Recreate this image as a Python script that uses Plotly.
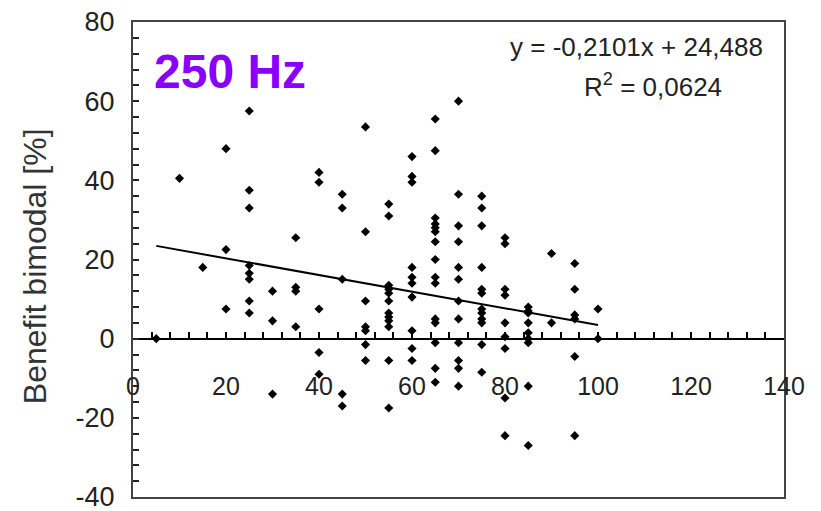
import plotly.graph_objects as go

# Measured hearing threshold (x) and bimodal benefit in percent (y), one entry per subject
hearing_x = (
    [5]
    + [10]
    + [15]
    + [20] * 3
    + [25] * 8
    + [30] * 3
    + [35] * 4
    + [40] * 5
    + [45] * 5
    + [50] * 7
    + [55] * 12
    + [60] * 10
    + [65] * 15
    + [70] * 12
    + [75] * 12
    + [80] * 9
    + [85] * 9
    + [90] * 2
    + [95] * 6
    + [100] * 2
)
benefit_y = [
    0,
    40.5,
    18,
    48, 22.5, 7.5,
    57.5, 37.5, 33, 18.5, 16.5, 15, 9.5, 6.5,
    12, 4.5, -14,
    25.5, 13, 12, 3,
    42, 39.5, 7.5, -3.5, -9,
    36.5, 33, 15, -14, -17,
    53.5, 27, 9.5, 3, 2, -1.5, -5.5,
    34, 31, 13.5, 12.5, 11.5, 9.5, 6.5, 5.5, 4.5, 3, -5.5, -17.5,
    46, 41, 39.5, 18, 15.5, 14, 10.5, 2, -2.5, -5.5,
    55.5, 47.5, 30.5, 29, 28, 27, 24.5, 20, 15.5, 14, 5, 4, -1, -7.5, -11,
    60, 36.5, 28.5, 24.5, 18, 15, 9.5, 5, -1, -5.5, -7.5, -12,
    36, 33, 28.5, 18, 12.5, 11.5, 7.5, 6.5, 5, 4, -1.5, -8.5,
    25.5, 24, 12.5, 11, 4, 0.5, -2.5, -15, -24.5,
    8, 7, 6.5, 4, 1.5, 0, -1, -12, -27,
    21.5, 4,
    19, 12.5, 6, 5, -4.5, -24.5,
    7.5, 0,
]

# Linear trend line coefficients
SLOPE = -0.2101
INTERCEPT = 24.488
R_SQUARED = 0.0624

x_ticks = [0, 20, 40, 60, 80, 100, 120, 140]
y_ticks = [-40, -20, 0, 20, 40, 60, 80]

FONT = "Liberation Sans, Arial, Helvetica, sans-serif"

fit_x = [min(hearing_x), max(hearing_x)]
fit_y = [SLOPE * v + INTERCEPT for v in fit_x]

eq_text = f"y = {SLOPE:.4f}x + {INTERCEPT:.3f}".replace(".", ",")
r2_text = f"R<sup>2</sup> = {R_SQUARED:.4f}".replace(".", ",")

fig = go.Figure()

fig.add_trace(go.Scatter(
    x=hearing_x, y=benefit_y, mode="markers",
    marker=dict(symbol="diamond", size=7, color="black"),
    xaxis="x", yaxis="y", showlegend=False, hoverinfo="x+y",
))

fig.add_trace(go.Scatter(
    x=fit_x, y=fit_y, mode="lines",
    line=dict(color="black", width=2),
    xaxis="x2", yaxis="y", showlegend=False,
))

fig.update_layout(
    width=821, height=511,
    margin=dict(l=133, r=37, t=22, b=14, autoexpand=False),
    paper_bgcolor="white", plot_bgcolor="white",
    font=dict(family=FONT, color="#222"),
    xaxis=dict(
        range=[0, 140], showgrid=False, zeroline=False, automargin=False,
        showline=True, mirror=True, linecolor="#444", linewidth=2,
        ticks="", showticklabels=False,
    ),
    xaxis2=dict(
        range=[0, 140], overlaying="x", anchor="free", position=1 / 3,
        side="bottom", showgrid=False, zeroline=False, automargin=False,
        showline=True, linecolor="black", linewidth=2,
        tickvals=x_ticks, ticktext=[str(v) for v in x_ticks],
        ticks="inside", ticklen=6, tickwidth=1.5, tickcolor="black",
        minor=dict(dtick=4, tick0=0, ticks="inside", ticklen=6, tickwidth=1.5, tickcolor="black"),
        tickfont=dict(size=25, color="#222", family=FONT),
        ticklabelstandoff=25, ticklabeloverflow="allow",
    ),
    yaxis=dict(
        range=[-40, 80], showgrid=False, zeroline=False, automargin=False,
        showline=True, mirror=True, linecolor="#444", linewidth=2,
        tickvals=y_ticks, ticktext=[str(v) for v in y_ticks],
        ticks="inside", ticklen=6, tickwidth=1.5, tickcolor="#222",
        minor=dict(dtick=4, tick0=0, ticks="inside", ticklen=6, tickwidth=1.5, tickcolor="#222"),
        tickfont=dict(size=27, color="#222", family=FONT),
        ticklabelstandoff=11, ticklabeloverflow="allow",
    ),
    annotations=[
        dict(text="Benefit bimodal [%]", textangle=-90, xref="paper", yref="paper",
             x=-0.1505, y=0.486, xanchor="center", yanchor="middle", showarrow=False,
             font=dict(size=32, color="#333", family=FONT)),
        dict(text="<b>250 Hz</b>", xref="paper", yref="paper",
             x=0.029, y=0.895, xanchor="left", yanchor="middle", showarrow=False,
             font=dict(size=48, color="#8a00ff", family=FONT)),
        dict(text=eq_text, xref="paper", yref="paper",
             x=0.971, y=0.947, xanchor="right", yanchor="middle", showarrow=False,
             font=dict(size=26, color="#222", family=FONT)),
        dict(text=r2_text, xref="paper", yref="paper",
             x=0.689, y=0.867, xanchor="left", yanchor="middle", showarrow=False,
             font=dict(size=26, color="#222", family=FONT)),
    ],
)

fig.write_html("out.html")
